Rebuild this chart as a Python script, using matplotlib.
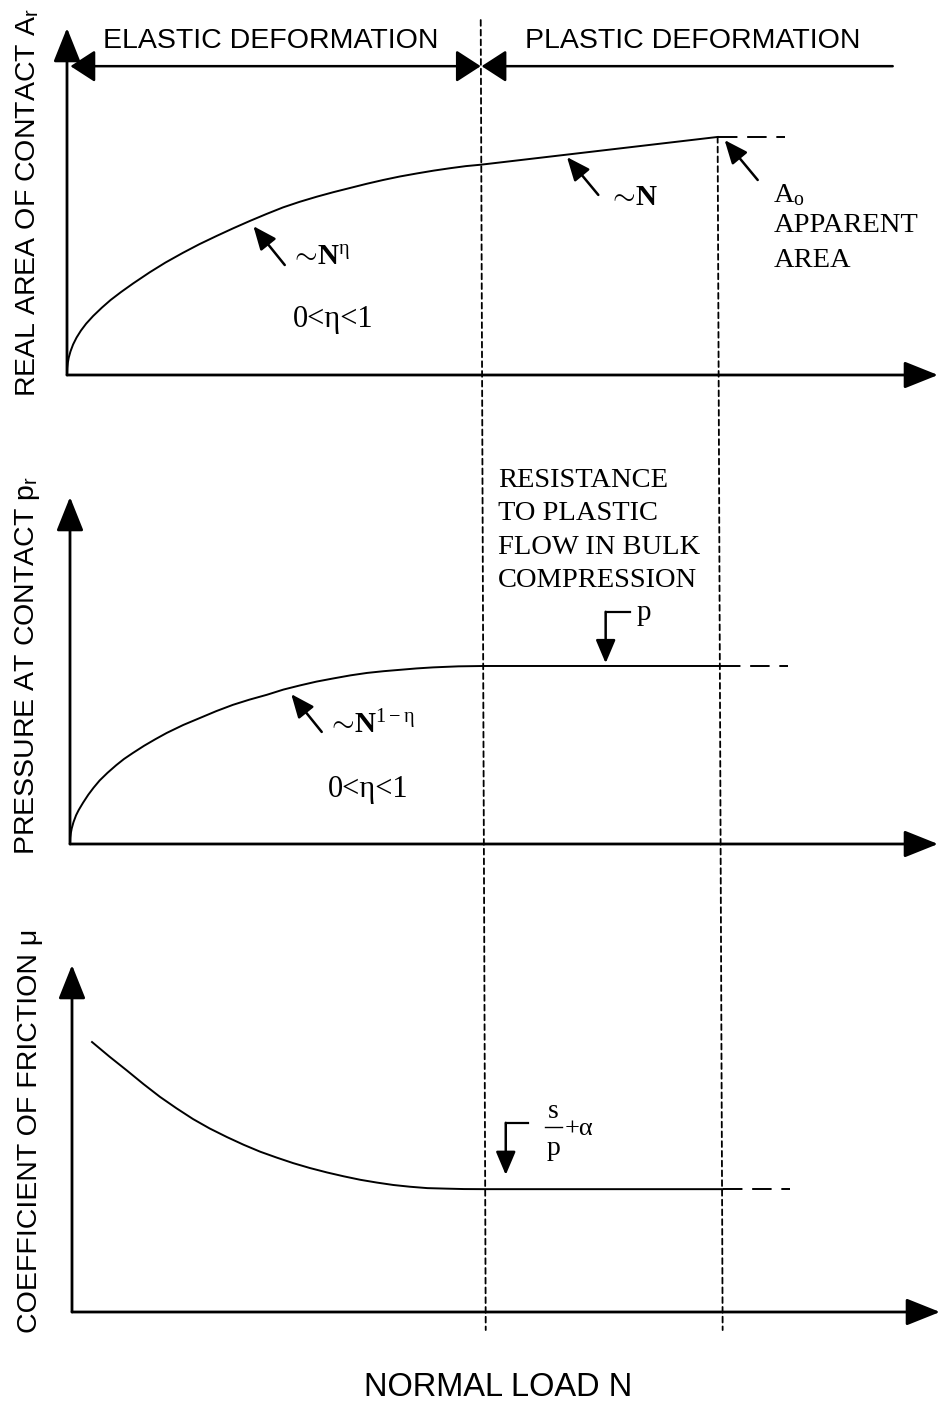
import matplotlib
matplotlib.use("Agg")
import matplotlib.pyplot as plt
from matplotlib import font_manager
from matplotlib.patches import ConnectionPatch

plt.rcParams["mathtext.fontset"] = "custom"
plt.rcParams["mathtext.rm"] = "Liberation Serif"
plt.rcParams["mathtext.it"] = "Liberation Serif:italic"
plt.rcParams["mathtext.bf"] = "Liberation Serif:bold"
plt.rcParams["mathtext.sf"] = "Liberation Sans"

installed = {f.name for f in font_manager.fontManager.ttflist}
if "Liberation Sans Narrow" in installed:
    SANS_LABEL, LABEL_SIZE = "Liberation Sans Narrow", 24
else:
    SANS_LABEL, LABEL_SIZE = "Liberation Sans", 20.5
SANS = "Liberation Sans"
SERIF = "Liberation Serif"

# ---------------- data (normalised load / response units) ----
elastic_limit = 4.75      # load where plastic deformation starts
apparent_limit = 7.47     # load where A_r reaches apparent area A_o
extension_end = 8.24      # end of dashed continuation

load_area = [0, 0.003, 0.01, 0.02, 0.04, 0.07, 0.11, 0.16, 0.22, 0.3, 0.4, 0.5,
             0.62, 0.76, 0.95, 1.13, 1.33, 1.52, 1.72, 1.91, 2.1, 2.29, 2.48,
             2.67, 2.87, 3.06, 3.25, 3.44, 3.63, 3.82, 4.02, 4.21, 4.4, 4.58,
             4.75, 7.47]
area = [0, 0.2, 0.36, 0.5, 0.68, 0.88, 1.08, 1.28, 1.48, 1.70, 1.94, 2.16,
        2.39, 2.64, 2.96, 3.24, 3.52, 3.77, 4.01, 4.23, 4.44, 4.64, 4.83,
        4.99, 5.14, 5.27, 5.39, 5.51, 5.62, 5.72, 5.81, 5.89, 5.96, 6.02,
        6.06, 6.86]

load_pressure = [0, 0.003, 0.01, 0.02, 0.04, 0.07, 0.1, 0.15, 0.21, 0.27, 0.34,
                 0.43, 0.53, 0.62, 0.72, 0.85, 0.98, 1.11, 1.3, 1.49, 1.68, 1.87,
                 2.06, 2.26, 2.45, 2.64, 2.83, 3.02, 3.22, 3.41, 3.6, 3.79, 3.98,
                 4.17, 4.46, 4.75, 7.47]
pressure = [0, 0.18, 0.32, 0.45, 0.63, 0.83, 0.98, 1.19, 1.42, 1.62, 1.83,
            2.05, 2.27, 2.45, 2.62, 2.83, 3.02, 3.20, 3.43, 3.63, 3.83, 4.01,
            4.16, 4.30, 4.45, 4.57, 4.68, 4.77, 4.86, 4.93, 4.98, 5.02, 5.06,
            5.09, 5.12, 5.13, 5.13]

load_friction = [0.23, 0.43, 0.63, 0.82, 1.01, 1.2, 1.39, 1.58, 1.78, 1.97, 2.16,
                 2.35, 2.54, 2.73, 2.93, 3.12, 3.31, 3.5, 3.69, 3.88, 4.08, 4.3,
                 4.5, 4.75, 7.47]
friction = [7.78, 7.36, 6.96, 6.57, 6.20, 5.87, 5.56, 5.29, 5.04, 4.82, 4.62,
            4.45, 4.29, 4.15, 4.02, 3.91, 3.81, 3.73, 3.66, 3.61, 3.57, 3.555,
            3.543, 3.54, 3.54]

y_labels = ["REAL AREA OF CONTACT A$_\\mathsf{r}$",
            "PRESSURE AT CONTACT p$_\\mathsf{r}$",
            "COEFFICIENT OF FRICTION \u03bc"]
x_label = "NORMAL LOAD N"
regime_labels = ["ELASTIC DEFORMATION", "PLASTIC DEFORMATION"]

# ---------------- layout ----------------
W, H = 941, 1406
fig = plt.figure(figsize=(W / 100, H / 100), dpi=100)


def add_panel(x0, y0, x_tip, y_tip):
    ax = fig.add_axes([x0 / W, 1 - y0 / H, (x_tip - x0) / W, (y0 - y_tip) / H])
    ax.set_xlim(0, (x_tip - x0) / 87.1)
    ax.set_ylim(0, 10)
    ax.axis("off")
    return ax


ax1 = add_panel(67, 375, 938, 28)
ax2 = add_panel(70, 844, 938, 497)
ax3 = add_panel(72, 1312, 940, 965)

axis_arrow = dict(arrowstyle="-|>,head_length=1.05,head_width=0.42", color="black",
                  lw=2.0, shrinkA=0, shrinkB=0, mutation_scale=20)
note_arrow = dict(arrowstyle="-|>,head_length=1.3,head_width=0.55", color="black",
                  lw=1.8, shrinkA=0, shrinkB=0, mutation_scale=11)

for ax in (ax1, ax2, ax3):
    xmax = ax.get_xlim()[1]
    ax.annotate("", xy=(xmax, 0), xytext=(0, 0), arrowprops=axis_arrow,
                annotation_clip=False)
    ax.annotate("", xy=(0, 10), xytext=(0, 0), arrowprops=axis_arrow,
                annotation_clip=False)

curve_kw = dict(color="black", lw=1.4, solid_joinstyle="round")
ext_kw = dict(color="black", lw=1.4, linestyle=(0, (10, 5)))

# panel 1: real area of contact
ax1.plot(load_area, area, **curve_kw)
ax1.plot([apparent_limit, extension_end], [area[-1], area[-1]], **ext_kw)
# panel 2: pressure
ax2.plot(load_pressure, pressure, **curve_kw)
ax2.plot([apparent_limit, extension_end], [pressure[-1], pressure[-1]], **ext_kw)
# panel 3: friction coefficient
ax3.plot(load_friction, friction, **curve_kw)
ax3.plot([apparent_limit, extension_end], [friction[-1], friction[-1]], **ext_kw)

# vertical dashed regime boundaries
dash_kw = dict(color="black", lw=1.3, linestyle=(0, (3.2, 2.2)))
fig.add_artist(ConnectionPatch(xyA=(elastic_limit, 10.23), coordsA=ax1.transData,
                               xyB=(elastic_limit, -0.52), coordsB=ax3.transData,
                               **dash_kw))
fig.add_artist(ConnectionPatch(xyA=(apparent_limit, area[-1]), coordsA=ax1.transData,
                               xyB=(apparent_limit, -0.52), coordsB=ax3.transData,
                               **dash_kw))

# header: regime arrows and labels
head_kw = dict(color="black", lw=1.8, shrinkA=0, shrinkB=0, mutation_scale=18)
ax1.annotate("", xy=(0.04, 8.90), xytext=(elastic_limit, 8.90),
             arrowprops=dict(arrowstyle="<|-|>,head_length=0.85,head_width=0.55", **head_kw),
             annotation_clip=False)
ax1.annotate("", xy=(elastic_limit + 0.01, 8.90), xytext=(9.48, 8.90),
             arrowprops=dict(arrowstyle="-|>,head_length=0.85,head_width=0.55", **head_kw),
             annotation_clip=False)
ax1.text(2.34, 9.62, regime_labels[0], family=SANS_LABEL, fontsize=LABEL_SIZE,
         ha="center", va="center")
ax1.text(7.18, 9.62, regime_labels[1], family=SANS_LABEL, fontsize=LABEL_SIZE,
         ha="center", va="center")

# panel 1 annotations
ax1.annotate("", xy=(2.14, 4.29), xytext=(2.50, 3.17), arrowprops=note_arrow)
ax1.text(2.56, 3.17, "$\\sim\\!\\mathbf{N}^{\\mathrm{\\eta}}$", family=SERIF,
         fontsize=21, va="baseline")
ax1.text(2.59, 1.38, "0<\u03b7<1", family=SERIF, fontsize=22, va="baseline")
ax1.annotate("", xy=(5.74, 6.28), xytext=(6.10, 5.19), arrowprops=note_arrow)
ax1.text(6.21, 4.90, "$\\sim\\!\\mathbf{N}$", family=SERIF, fontsize=21,
         va="baseline")
ax1.annotate("", xy=(7.55, 6.77), xytext=(7.93, 5.62), arrowprops=note_arrow)
ax1.text(8.11, 4.99, "A$_\\mathrm{o}$", family=SERIF, fontsize=20.5, va="baseline")
ax1.text(8.11, 4.12, "APPARENT", family=SERIF, fontsize=20.5, va="baseline")
ax1.text(8.11, 3.11, "AREA", family=SERIF, fontsize=20.5, va="baseline")

# panel 2 annotations
ax2.annotate("", xy=(2.54, 4.32), xytext=(2.89, 3.23), arrowprops=note_arrow)
ax2.text(2.95, 3.20, "$\\sim\\!\\mathbf{N}^{\\mathrm{1-\\eta}}$", family=SERIF,
         fontsize=21, va="baseline")
ax2.text(2.96, 1.35, "0<\u03b7<1", family=SERIF, fontsize=22, va="baseline")
for i, line in enumerate(["RESISTANCE", "TO PLASTIC", "FLOW IN BULK", "COMPRESSION"]):
    ax2.text(4.91, 10.29 - 0.96 * i, line, family=SERIF, fontsize=20.5,
             va="baseline", clip_on=False)
bracket_kw = dict(color="black", lw=1.6)
ax2.plot([6.15, 6.43], [6.69, 6.69], **bracket_kw)
ax2.annotate("", xy=(6.15, pressure[-1] + 0.08), xytext=(6.15, 6.69),
             arrowprops=note_arrow)
ax2.text(6.51, 6.46, "p", family=SERIF, fontsize=21, va="baseline")

# panel 3 annotations: s/p + alpha
ax3.plot([4.98, 5.24], [5.45, 5.45], **bracket_kw)
ax3.annotate("", xy=(4.98, friction[-1] + 0.41), xytext=(4.98, 5.45),
             arrowprops=note_arrow)
ax3.text(5.53, 5.59, "s", family=SERIF, fontsize=20, ha="center", va="baseline")
ax3.plot([5.43, 5.63], [5.33, 5.33], color="black", lw=1.0)
ax3.text(5.53, 4.52, "p", family=SERIF, fontsize=20, ha="center", va="baseline")
ax3.text(5.66, 5.10, "+\u03b1", family=SERIF, fontsize=19, va="baseline")

# axis titles
fig.text(28 / W, 1 - 203 / H, y_labels[0], family=SANS_LABEL, fontsize=LABEL_SIZE,
         rotation=90, ha="center", va="center")
fig.text(28 / W, 1 - 665 / H, y_labels[1], family=SANS_LABEL, fontsize=LABEL_SIZE,
         rotation=90, ha="center", va="center")
fig.text(30 / W, 1 - 1131 / H, y_labels[2], family=SANS_LABEL, fontsize=LABEL_SIZE,
         rotation=90, ha="center", va="center")
fig.text(498 / W, 1 - 1388 / H, x_label, family=SANS, fontsize=23.5,
         ha="center", va="center")

fig.savefig("out.png", dpi=100, facecolor="white")
